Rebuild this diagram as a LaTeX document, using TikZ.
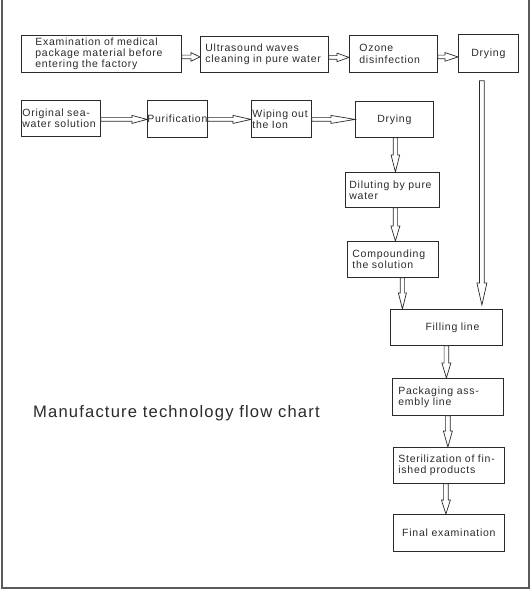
\documentclass[tikz,border=0pt]{standalone}
\usepackage{fontspec}
\setmainfont{Liberation Sans}[LetterSpace=7]
\usetikzlibrary{calc}
\definecolor{ink}{HTML}{2A2A2A}
\definecolor{framec}{HTML}{5A5A5A}
\tikzset{
  box/.style={draw=ink, line width=0.8pt, anchor=north west, inner ysep=0pt,
    font=\fontsize{10.5}{11.2}\selectfont, text=ink},
  arr/.style={draw=ink, line width=0.7pt, fill=white},
  harrow/.style n args={3}{to path={let \p1=(\tikztostart), \p2=(\tikztotarget) in
    (\x1,\y1+#3) -- (\x2-#1,\y1+#3) -- (\x2-#1,\y1+#2) -- (\x2,\y1) --
    (\x2-#1,\y1-#2) -- (\x2-#1,\y1-#3) -- (\x1,\y1-#3) -- cycle}},
  varrow/.style n args={3}{to path={let \p1=(\tikztostart), \p2=(\tikztotarget) in
    (\x1-#3,\y1) -- (\x1-#3,\y2+#1) -- (\x1-#2,\y2+#1) -- (\x1,\y2) --
    (\x1+#2,\y2+#1) -- (\x1+#3,\y2+#1) -- (\x1+#3,\y1) -- cycle}},
}
\begin{document}
\begin{tikzpicture}[x=1pt,y=-1pt]
\useasboundingbox (0,0) rectangle (531,590);
\draw[framec, line width=1.8pt] (2,0) -- (2,588) -- (529,588) -- (529,0);

% row 1
\node[box, minimum width=160pt, minimum height=37pt, inner xsep=14pt, text width=132pt, align=left] (A) at (21,35)
  {Examination of medical\\package material before\\entering the factory};
\node[box, minimum width=128pt, minimum height=36pt, inner xsep=5pt, text width=118pt, align=left] (B) at (200,36)
  {Ultrasound waves\\cleaning in pure water};
\node[box, minimum width=88pt, minimum height=37pt, inner xsep=10pt, text width=68pt, align=left] (C) at (349,35)
  {Ozone\\disinfection};
\node[box, minimum width=60pt, minimum height=38pt, inner xsep=0pt, align=center] (D) at (458,34) {Drying};

% row 2
\node[box, minimum width=79pt, minimum height=36pt, inner xsep=1pt, text width=77pt, align=left] (E) at (21,100)
  {Original sea-\\water solution};
\node[box, minimum width=60pt, minimum height=37pt, inner xsep=0pt, align=center] (F) at (147,100) {Purification};
\node[box, minimum width=60pt, minimum height=37pt, inner xsep=1pt, text width=58pt, align=left] (G) at (251,100)
  {Wiping out\\the Ion};
\node[box, minimum width=78pt, minimum height=36pt, inner xsep=0pt, align=center] (H) at (355,101) {Drying};

% column
\node[box, minimum width=94pt, minimum height=35pt, inner xsep=4pt, text width=86pt, align=left] (I) at (345,172)
  {Diluting by pure\\water};
\node[box, minimum width=91pt, minimum height=36pt, inner xsep=5pt, text width=81pt, align=left] (J) at (347,241)
  {Compounding\\the solution};
\node[box, minimum width=112pt, minimum height=36pt, inner xsep=23pt, text width=66pt, align=right] (K) at (390,309)
  {Filling line};
\node[box, minimum width=111pt, minimum height=37pt, inner xsep=6pt, text width=99pt, align=left] (L) at (392,378)
  {Packaging ass-\\embly line};
\node[box, minimum width=111pt, minimum height=36pt, inner xsep=5pt, text width=101pt, align=left] (M) at (393,447)
  {Sterilization of fin-\\ished products};
\node[box, minimum width=111pt, minimum height=37pt, inner xsep=0pt, align=center] (N) at (393,514)
  {Final examination};

\node[anchor=base west, inner sep=0pt, text=ink, font=\fontsize{16.6}{20}\selectfont] (T) at (33,417)
  {Manufacture technology flow chart};

% arrows row 1
\draw[arr] ([yshift=-3pt]A.east) to[harrow={9pt}{4.3pt}{1.8pt}] (B.west);
\draw[arr] ([yshift=-3pt]B.east) to[harrow={12pt}{4.3pt}{1.8pt}] (C.west);
\draw[arr] ([yshift=-3pt]C.east) to[harrow={13pt}{4.3pt}{1.8pt}] (D.west);
% arrows row 2
\draw[arr] ([yshift=-1pt]E.east) to[harrow={15pt}{4pt}{1.8pt}] (F.west);
\draw[arr] ([yshift=-0.5pt]F.east) to[harrow={18pt}{4pt}{1.8pt}] (G.west);
\draw[arr] ([yshift=-0.5pt]G.east) to[harrow={24pt}{4pt}{1.8pt}] (H.west);
% vertical arrows
\draw[arr] ([xshift=1pt]H.south) to[varrow={17pt}{4.3pt}{2.2pt}] (I.north);
\draw[arr] ([xshift=3pt]I.south) to[varrow={15pt}{4.5pt}{2.2pt}] (J.north);
\draw[arr] ([xshift=9.5pt]J.south) to[varrow={16pt}{4pt}{2.2pt}] (K.north);
\coordinate (dk) at ([xshift=-6.5pt,yshift=-8pt]D.south);
\coordinate (dkend) at ($(dk |- K.north)+(0pt,4pt)$);
\draw[arr] (dk) to[varrow={22pt}{5pt}{2.4pt}] (dkend);
\draw[arr] (K.south) to[varrow={15pt}{4.5pt}{2.3pt}] (L.north);
\draw[arr] (L.south) to[varrow={16pt}{4.5pt}{2.3pt}] (M.north);
\draw[arr] ([xshift=-3pt]M.south) to[varrow={14pt}{4.5pt}{2.3pt}] (N.north);
\end{tikzpicture}
\end{document}
